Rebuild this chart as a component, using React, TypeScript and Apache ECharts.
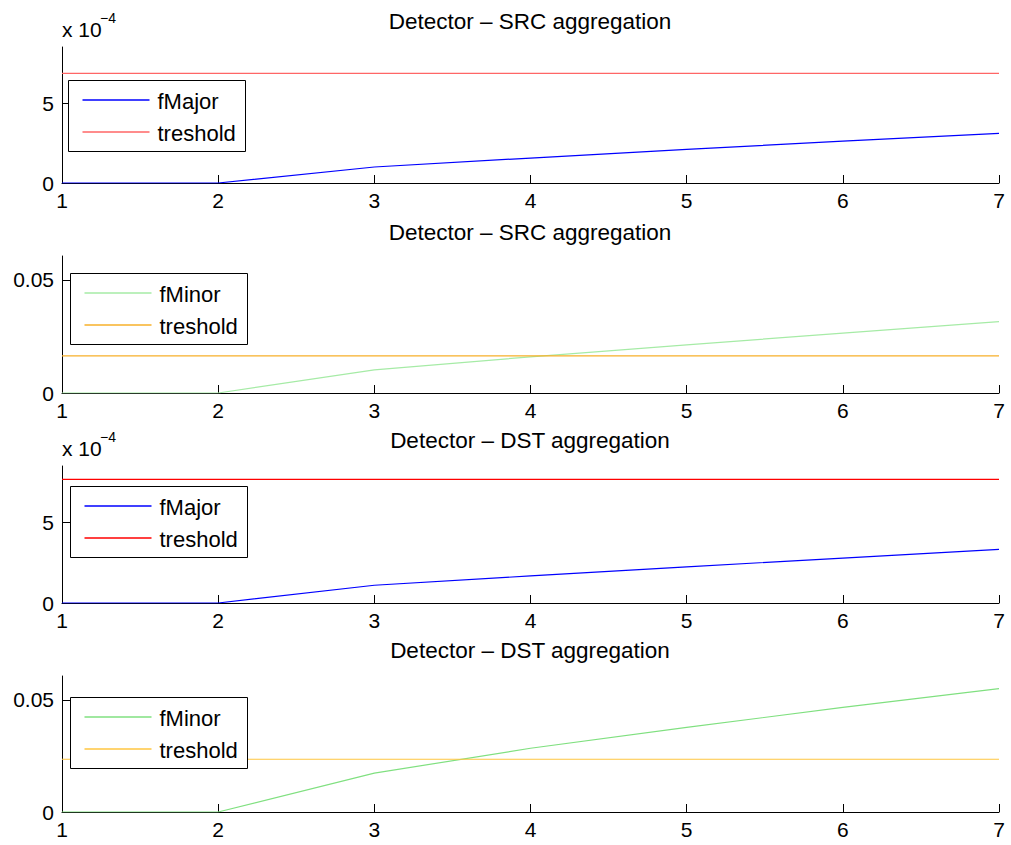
import React, { useEffect, useRef } from "react";
import * as echarts from "echarts";

const xValues = [1, 2, 3, 4, 5, 6, 7];
const titles = [
  "Detector – SRC aggregation",
  "Detector – SRC aggregation",
  "Detector – DST aggregation",
  "Detector – DST aggregation",
];
const srcMajor = [0, 0, 1.0e-4, 1.56e-4, 2.1e-4, 2.62e-4, 3.1e-4];
const srcMajorThreshold = 6.85e-4;
const srcMinor = [0, 0, 0.0102, 0.016, 0.0213, 0.0265, 0.0316];
const srcMinorThreshold = 0.0164;
const dstMajor = [0, 0, 1.1e-4, 1.68e-4, 2.24e-4, 2.79e-4, 3.33e-4];
const dstMajorThreshold = 7.67e-4;
const dstMinor = [0, 0, 0.0173, 0.0284, 0.0377, 0.0466, 0.055];
const dstMinorThreshold = 0.0235;

const seriesNames = [
  ["fMajor", "treshold"],
  ["fMinor", "treshold"],
  ["fMajor", "treshold"],
  ["fMinor", "treshold"],
];
const FONT = "'Liberation Sans', Arial, Helvetica, sans-serif";

export default function App() {
  const ref = useRef<HTMLDivElement>(null);
  useEffect(() => {
    if (!ref.current) return;
    const chart = echarts.init(ref.current, null, { renderer: "svg" });

    const plots = [
      { data: srcMajor, thr: srcMajorThreshold, c1: "#0000ff", c2: "#ff6666", major: true, top: 47, h: 136, legendTop: 80, legendLeft: 68, titleTop: 5 },
      { data: srcMinor, thr: srcMinorThreshold, c1: "#a6eba6", c2: "#f7b02a", major: false, top: 256, h: 137, legendTop: 273, legendLeft: 70, titleTop: 216 },
      { data: dstMajor, thr: dstMajorThreshold, c1: "#0000ff", c2: "#ff0000", major: true, top: 466, h: 137, legendTop: 486, legendLeft: 70, titleTop: 424 },
      { data: dstMinor, thr: dstMinorThreshold, c1: "#80e080", c2: "#ffc640", major: false, top: 676, h: 136, legendTop: 697, legendLeft: 70, titleTop: 634 },
    ];

    const grid: any[] = [];
    const xAxis: any[] = [];
    const yAxis: any[] = [];
    const series: any[] = [];
    const title: any[] = [];
    const graphic: any[] = [];

    plots.forEach((p, i) => {
      grid.push({ left: 62, top: p.top, width: 937, height: p.h });
      xAxis.push({
        type: "value",
        gridIndex: i,
        min: 1,
        max: 7,
        interval: 1,
        axisLine: { show: true, lineStyle: { color: "#000", width: 1 } },
        axisTick: { show: true, inside: true, length: 8, lineStyle: { color: "#000" } },
        axisLabel: { color: "#000", fontSize: 21, fontFamily: FONT, margin: 7 },
        splitLine: { show: false },
      });
      const yMax = p.major ? 8.5e-4 : 0.0606;
      const tickVals = p.major ? [0, 5e-4] : [0, 0.05];
      yAxis.push({
        type: "value",
        gridIndex: i,
        min: 0,
        max: yMax,
        axisLine: { show: true, onZero: false, lineStyle: { color: "#000", width: 1 } },
        axisTick: { show: true, inside: true, length: 8, lineStyle: { color: "#000" }, customValues: tickVals },
        axisLabel: {
          color: "#000",
          fontSize: 21,
          fontFamily: FONT,
          margin: 8,
          customValues: tickVals,
          formatter: (v: number) => (p.major ? String(Math.round(v / 1e-4)) : v === 0 ? "0" : String(Number(v.toFixed(4)))),
        },
        splitLine: { show: false },
      });
      const n1 = seriesNames[i][0];
      const n2 = seriesNames[i][1];
      series.push({
        type: "line",
        name: n1,
        xAxisIndex: i,
        yAxisIndex: i,
        symbol: "none",
        data: xValues.map((x, k) => [x, p.data[k]]),
        lineStyle: { color: p.c1, width: 1.2 },
        itemStyle: { color: p.c1 },
        z: 3,
      });
      series.push({
        type: "line",
        name: n2,
        xAxisIndex: i,
        yAxisIndex: i,
        symbol: "none",
        data: xValues.map((x) => [x, p.thr]),
        lineStyle: { color: p.c2, width: 1.2 },
        itemStyle: { color: p.c2 },
        z: 3,
      });
      // legend box
      const lx = p.legendLeft + 0.5;
      const ly = p.legendTop + 0.5;
      const rows = [p.legendTop + 20, p.legendTop + 52];
      graphic.push({
        type: "rect",
        z: 100,
        shape: { x: lx, y: ly, width: 177, height: 71 },
        style: { fill: "#ffffff", stroke: "#000000", lineWidth: 1 },
      });
      [n1, n2].forEach((nm, r) => {
        graphic.push({
          type: "line",
          z: 101,
          shape: { x1: lx + 14, y1: rows[r], x2: lx + 81, y2: rows[r] },
          style: { stroke: r === 0 ? p.c1 : p.c2, lineWidth: 1.6, fill: null },
        });
        graphic.push({
          type: "text",
          z: 101,
          x: lx + 89,
          y: rows[r] + 1,
          style: { text: nm, font: `22px ${FONT}`, fill: "#000", verticalAlign: "middle", align: "left" },
        });
      });
      title.push({
        text: titles[i],
        left: 525,
        textAlign: "center",
        top: p.titleTop,
        textStyle: { color: "#000", fontSize: 22.5, fontWeight: "normal", fontFamily: FONT },
      });
      if (p.major) {
        graphic.push({
          type: "text",
          left: 62,
          top: p.top - 28,
          style: { text: "x 10", font: `21px ${FONT}`, fill: "#000" },
        });
        graphic.push({
          type: "text",
          left: 100,
          top: p.top - 36,
          style: { text: "−4", font: `14px ${FONT}`, fill: "#000" },
        });
      }
    });

    chart.setOption({
      animation: false,
      backgroundColor: "#fff",
      title,
      grid,
      xAxis,
      yAxis,
      series,
      graphic,
    });
    return () => chart.dispose();
  }, []);
  return (
    <div
      ref={ref}
      style={{ position: "fixed", left: 0, top: 0, width: 1011, height: 845 }}
    />
  );
}
